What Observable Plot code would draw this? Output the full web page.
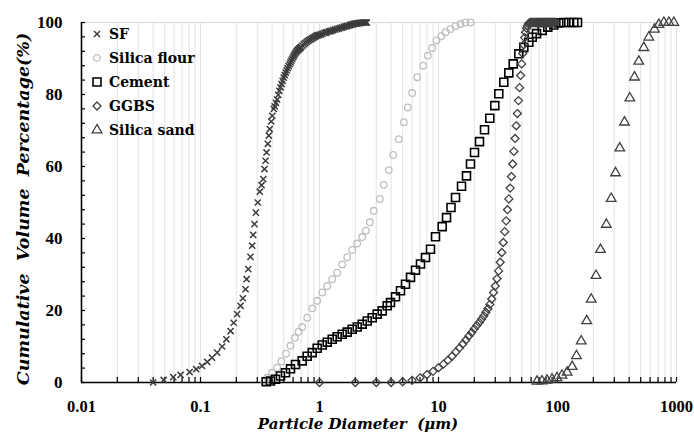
<!DOCTYPE html>
<html><head><meta charset="utf-8">
<script src="https://cdn.jsdelivr.net/npm/d3@7"></script>
<script src="https://cdn.jsdelivr.net/npm/@observablehq/plot@0.6"></script>
<style>
body{margin:0;background:#fff;}
#wrap{position:relative;width:694px;height:432px;font-family:"DejaVu Serif",serif;color:#000;}
#legend{position:absolute;left:90px;top:22px;font-weight:bold;font-size:14px;}
#legend .row{height:24px;display:flex;align-items:center;white-space:nowrap;}
#legend svg{margin-right:5px;}
#xtitle{position:absolute;left:158px;width:400px;top:416px;text-align:center;font-weight:bold;font-style:italic;font-size:15px;line-height:16px;white-space:pre;}
#ytitle{position:absolute;left:-177px;top:199px;width:400px;height:20px;line-height:20px;text-align:center;transform:rotate(-90deg);transform-origin:50% 50%;font-weight:bold;font-style:italic;font-size:17.5px;white-space:pre;}
</style></head><body><div id="wrap"></div>
<script>
// ---- data (particle diameter in µm, cumulative volume %) ----
const seriesNames = ["SF", "Silica flour", "Cement", "GGBS", "Silica sand"];

const sfD = [0.040,0.049,0.059,0.068,0.081,0.092,0.103,0.114,0.125,0.138,0.152,0.165,0.179,0.190,0.203,0.217,0.227,0.239,0.244,0.252,0.263,0.272,0.277,0.284,0.292,0.303,0.315,0.326,0.337,0.345,0.352,0.359,0.368,0.375,0.382,0.393,0.401,0.413,
  0.42,0.43,0.44,0.45,0.46,0.47,0.48,0.49,0.50,0.51,0.52,0.53,0.54,0.55,0.56,0.57,0.58,0.59,0.60,0.61,0.62,0.63,0.64,0.65,0.66,0.67,0.68,0.69,0.70,0.72,0.74,0.76,0.78,0.80,0.82,0.84,0.86,0.88,0.90,0.92,0.94,0.96,0.98,1.00,
  1.03,1.06,1.10,1.13,1.16,1.20,1.23,1.26,1.30,1.35,1.40,1.45,1.50,1.55,1.60,1.65,1.70,1.75,1.80,1.85,1.90,1.95,2.00,2.05,2.10,2.15,2.20,2.25,2.30,2.35,2.40,2.45,2.50];
const sfV = [0,0.7,1.5,2.1,2.9,3.7,4.6,5.7,6.9,8.3,10,12,14.3,16.6,19,21.3,23.4,25.9,28.7,31.5,34.9,38,41,44,47.2,50,53,54.8,56.5,59.3,61.6,63.9,66.3,68.6,70.4,72.5,74.1,76,
  76.7,77.7,78.6,79.9,81.0,82.0,82.9,83.8,84.7,85.4,86.1,86.7,87.3,87.9,88.4,88.9,89.4,89.9,90.4,90.8,91.2,91.6,91.9,92.2,92.4,92.6,92.8,93.0,93.2,93.6,94.0,94.3,94.6,94.9,95.1,95.3,95.5,95.7,95.9,96.1,96.3,96.4,96.5,96.6,
  96.7,96.9,97.1,97.2,97.3,97.5,97.6,97.7,97.9,98.0,98.2,98.3,98.5,98.6,98.8,98.9,99.0,99.1,99.3,99.4,99.5,99.6,99.7,99.7,99.8,99.8,99.9,99.9,100,100,100,100,100];

const flourD = [0.345,0.364,0.400,0.441,0.479,0.523,0.570,0.620,0.668,0.716,0.789,0.869,0.957,1.054,1.161,1.279,1.409,1.552,1.709,1.883,2.074,2.285,2.459,2.648,2.858,3.212,3.469,3.821,4.159,4.637,5.108,5.521,6.012,6.622,7.430,8.128,8.851,9.616,10.54,11.45,12.61,13.90,15.31,16.87,18.58];
const flourV = [0.3,1.3,2.7,4.1,5.9,8.0,10.2,12.4,14.1,15.4,18.0,20.6,22.7,25.0,26.8,28.7,30.5,32.8,34.8,36.8,38.6,40.4,42.2,44.5,47.7,51.0,54.9,59.0,63.2,67.6,72.3,76.4,80.4,84.8,88.0,90.8,92.9,95.0,96.2,97.3,98.2,99.0,99.6,100,100];

const cementD = [0.3565,0.3876,0.4269,0.4702,0.5179,0.5705,0.6284,0.7153,0.7881,0.8684,0.9565,1.054,1.161,1.279,1.408,1.551,1.709,1.883,2.074,2.285,2.517,2.773,3.054,3.364,3.706,3.950,4.352,4.794,5.281,5.818,6.408,7.060,7.778,8.566,9.437,10.74,11.68,12.74,13.90,15.61,17.19,18.57,20.07,22.11,24.36,26.99,29.73,32.11,35.38,38.97,42.43,47.29,52.11,57.41,61.31,66.62,74.36,82.88,93.09,102.5,113.0,124.5,137.1,147.3];
const cementV = [0.2,0.4,0.9,1.8,2.7,3.8,5.0,6.0,7.3,8.3,9.5,10.4,11.2,12.0,12.7,13.4,14.0,14.8,15.4,16.2,17.1,18.0,19.0,19.9,21.3,22.2,23.8,25.5,27.3,29.2,31.2,32.9,34.7,37.0,40.5,43.3,45.8,48.6,51.4,54.5,57.4,60.7,63.9,66.9,70.2,73.4,76.9,80.2,83.4,86.0,88.5,91.3,93.1,94.5,95.9,96.9,97.8,98.7,99.3,99.9,100,100,100,100];

const ggbsD = [1,2,3,4,5,6,7,8,9,10,11,12,13,14,15,16,17,18,19,20,21,22,23,24,25,26,27,28,29,30,31,32,33,34,35,36,37,38,39,40,41,42,43,44,45,46,47,48,49,50,
  51,52,53,54,55,56,57,58,59,60,61,62,63,64,65,66,67,68,69,70,71,72,73,74,75,76,77,78,79,80,81,82,83,84,85,86,87,88,89,90,91,92,93,94,95,96];
const ggbsV = [0,0,0,0,0.2,0.6,1.3,2.2,3.1,4.1,5.1,6.2,7.3,8.5,9.6,10.7,11.8,12.9,13.9,14.9,15.8,16.7,17.6,18.5,19.5,20.5,21.7,23.2,25.0,26.8,28.8,31.0,33.4,36.1,38.9,41.9,44.9,48.0,51.0,54.0,
  57.2,60.7,64.2,67.8,71.3,74.7,78.3,81.9,85.3,88.5,91.4,93.8,95.8,97.3,98.4,99.1,99.6,99.9,100,100,100,100,100,100,100,100,100,100,100,100,
  100,100,100,100,100,100,100,100,100,100,100,100,100,100,100,100,100,100,100,100,100,100,100,100,100,100];

const sandD = [67.26,74.1,81.6,89.9,99.0,109.1,120.6,132.9,144.4,158.2,176.0,192.0,210.7,229.8,257.1,282.7,307.2,333.8,365.6,405.2,443.7,482.3,531.1,585.0,653.4,710.2,782.2,861.6,949.0];
const sandV = [0.3,0.4,0.6,0.9,1.3,2.0,2.8,4.4,7.4,11.5,17.1,23.1,29.7,36.9,43.9,51.1,58.2,65.1,72.3,79,84.8,89.2,93,95.9,98.1,99.4,100,100,100];

const xTickLabels = [0.01, 0.1, 1, 10, 100, 1000];
const yTickLabels = [0, 20, 40, 60, 80, 100];
const xTitle = "Particle Diameter  (μm)";
const yTitle = "Cumulative  Volume  Percentage(%)";

// ---- layout ----
const W = 694, H = 432, mL = 81, mR = 18, mT = 22, mB = 50;
const plotW = W - mL - mR, plotH = H - mT - mB;

const xMinor = [];
xTickLabels.slice(0, -1).forEach(dec => { for (let k = 1; k <= 9; k++) xMinor.push(+(k * dec).toPrecision(3)); });
xMinor.push(1000);
const yMinor = d3.range(0, 101, 4);

const zip = (a, b) => a.map((d, i) => ({d, v: b[i]}));

const styles = [
  {data: zip(sfD, sfV), symbol: "times", r: 2.9, stroke: "#3c3c3c", strokeWidth: 1.5},
  {data: zip(flourD, flourV), symbol: "circle", r: 3.3, stroke: "#bfbfbf", strokeWidth: 1.3},
  {data: zip(cementD, cementV), symbol: "square", r: 4.5, stroke: "#000000", strokeWidth: 1.6},
  {data: zip(ggbsD, ggbsV), symbol: "diamond2", r: 3.6, stroke: "#404040", strokeWidth: 1.3},
  {data: zip(sandD, sandV), symbol: "triangle2", r: 4.6, stroke: "#404040", strokeWidth: 1.3}
];

const tickFont = "Liberation Serif";

const chart = Plot.plot({
  width: W, height: H,
  marginLeft: mL, marginRight: mR, marginTop: mT, marginBottom: mB,
  x: {type: "log", domain: [0.01, 1000]},
  y: {domain: [0, 100]},
  style: {fontFamily: "DejaVu Serif", background: "white", color: "#000", overflow: "visible"},
  marks: [
    Plot.ruleX(xMinor, {stroke: "#e3e3e3", strokeWidth: 1}),
    Plot.ruleY([100], {stroke: "#d9d9d9", strokeWidth: 1}),
    Plot.ruleX([0.01], {stroke: "#000", strokeWidth: 1.6}),
    Plot.ruleY([0], {stroke: "#000", strokeWidth: 1.6}),
    Plot.tickX(xMinor, {x: d => d, stroke: "#000", strokeWidth: 1.2, insetTop: plotH - 5}),
    Plot.tickY(yMinor, {y: d => d, stroke: "#000", strokeWidth: 1.2, insetRight: plotW - 4}),
    ...styles.map(s => Plot.dot(s.data, {x: "d", y: "v", symbol: s.symbol, r: s.r, stroke: s.stroke, strokeWidth: s.strokeWidth, fill: "none"})),
    Plot.axisX(xTickLabels, {tickSize: 0, tickPadding: 18, tickFormat: d => String(d), fontFamily: tickFont, fontSize: 16.5, fontWeight: "bold", label: null}),
    Plot.axisY(yTickLabels, {tickSize: 0, tickPadding: 19, fontFamily: tickFont, fontSize: 17, fontWeight: "bold", label: null})
  ]
});

const wrap = document.getElementById("wrap");
wrap.appendChild(chart);

// legend
const symMap = {times: d3.symbolTimes, circle: d3.symbolCircle, square: d3.symbolSquare, diamond2: d3.symbolDiamond2, triangle2: d3.symbolTriangle2};
const legend = document.createElement("div");
legend.id = "legend";
seriesNames.forEach((name, i) => {
  const s = styles[i];
  const row = document.createElement("div");
  row.className = "row";
  const path = d3.symbol(symMap[s.symbol], Math.PI * s.r * s.r)();
  row.innerHTML = `<svg width="14" height="14" viewBox="-7 -7 14 14"><path d="${path}" fill="none" stroke="${s.stroke}" stroke-width="${s.strokeWidth}"/></svg><span>${name}</span>`;
  legend.appendChild(row);
});
wrap.appendChild(legend);

const xt = document.createElement("div"); xt.id = "xtitle"; xt.textContent = xTitle; wrap.appendChild(xt);
const yt = document.createElement("div"); yt.id = "ytitle"; yt.textContent = yTitle; wrap.appendChild(yt);
</script></body></html>
